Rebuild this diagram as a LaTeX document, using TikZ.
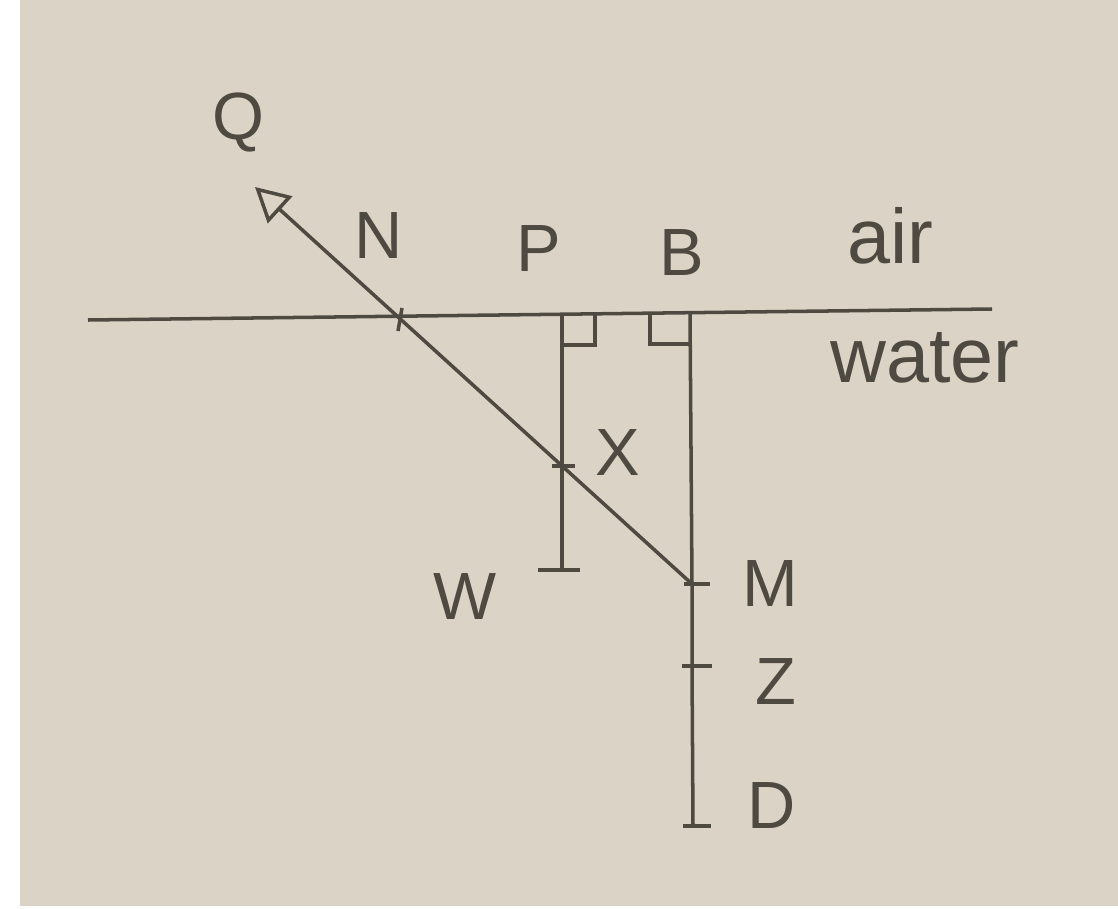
\documentclass[tikz,border=0pt]{standalone}
\usepackage{fontspec}
\setmainfont{Liberation Sans}
\usetikzlibrary{arrows.meta}
\definecolor{paper}{RGB}{219,212,198}
\definecolor{pencil}{RGB}{78,74,66}
\tikzset{
  lbl/.style={text=pencil, font=\fontsize{19}{22}\selectfont, inner sep=0pt},
  word/.style={lbl, font=\fontsize{22}{26}\selectfont, anchor=base},
  ln/.style={draw=pencil, line width=1pt},
}
\begin{document}
\begin{tikzpicture}[x=0.01cm,y=-0.01cm]% units are pixels of the sketch
    % Paper and margins
    \fill[white] (0,0) rectangle (1118,909);
    \fill[paper] (20,0) rectangle (1118,906);
    \useasboundingbox (0,0) rectangle (1118,909);

    % Surface between air and water
    \coordinate (L) at (88,320);
    \coordinate (R) at (992,309);
    \draw[ln] (L) -- (R);

    % Points
    \coordinate (Qend) at (255,187);
    \coordinate (N) at (400,319);
    \coordinate (M) at (692,584);
    \coordinate (Ptop) at (562,314);
    \coordinate (W) at (562,570);
    \coordinate (Btop) at (690,313);
    \coordinate (Z) at (692,666);
    \coordinate (D) at (693,826);
    \coordinate (X) at (intersection of N--M and Ptop--W);

    % Normals
    \draw[ln] (Ptop) -- (W);
    \draw[ln] (Btop) -- (M) -- (Z) -- (D);

    % Ray from M back to Q
    \draw[ln, -{Triangle[open,length=3.4mm,width=3.6mm]}] (M) -- (Qend);

    % Tick marks
    \draw[ln] (N) +(2,-11) -- +(-2,12);
    \draw[ln] (X) +(-10,0) -- +(13,0);
    \draw[ln] (W) +(-24,0) -- +(18,0);
    \draw[ln] (M) +(-8,0) -- +(18,0);
    \draw[ln] (Z) +(-10,0) -- +(20,0);
    \draw[ln] (D) +(-10,0) -- +(18,0);

    % Right angles
    \draw[ln] (Ptop) ++(0,31) -- ++(33,0) -- ++(0,-31);
    \draw[ln] (Btop) ++(-40,0) -- ++(0,31) -- ++(40,0);

    % Labels
    \node[lbl] (Qlbl) at (238,122) {Q};
    \node[lbl] (Nlbl) at (379,236) {N};
    \node[lbl] (Plbl) at (539,249) {P};
    \node[lbl] (Blbl) at (682,253) {B};
    \node[word] (airlbl) at (890,263) {air};
    \node[word] (waterlbl) at (925,382) {water};
    \node[lbl] (Xlbl) at (618,453) {X};
    \node[lbl] (Wlbl) at (465,597) {W};
    \node[lbl] (Mlbl) at (770,584) {M};
    \node[lbl] (Zlbl) at (776,682) {Z};
    \node[lbl] (Dlbl) at (772,806) {D};
\end{tikzpicture}
\end{document}
